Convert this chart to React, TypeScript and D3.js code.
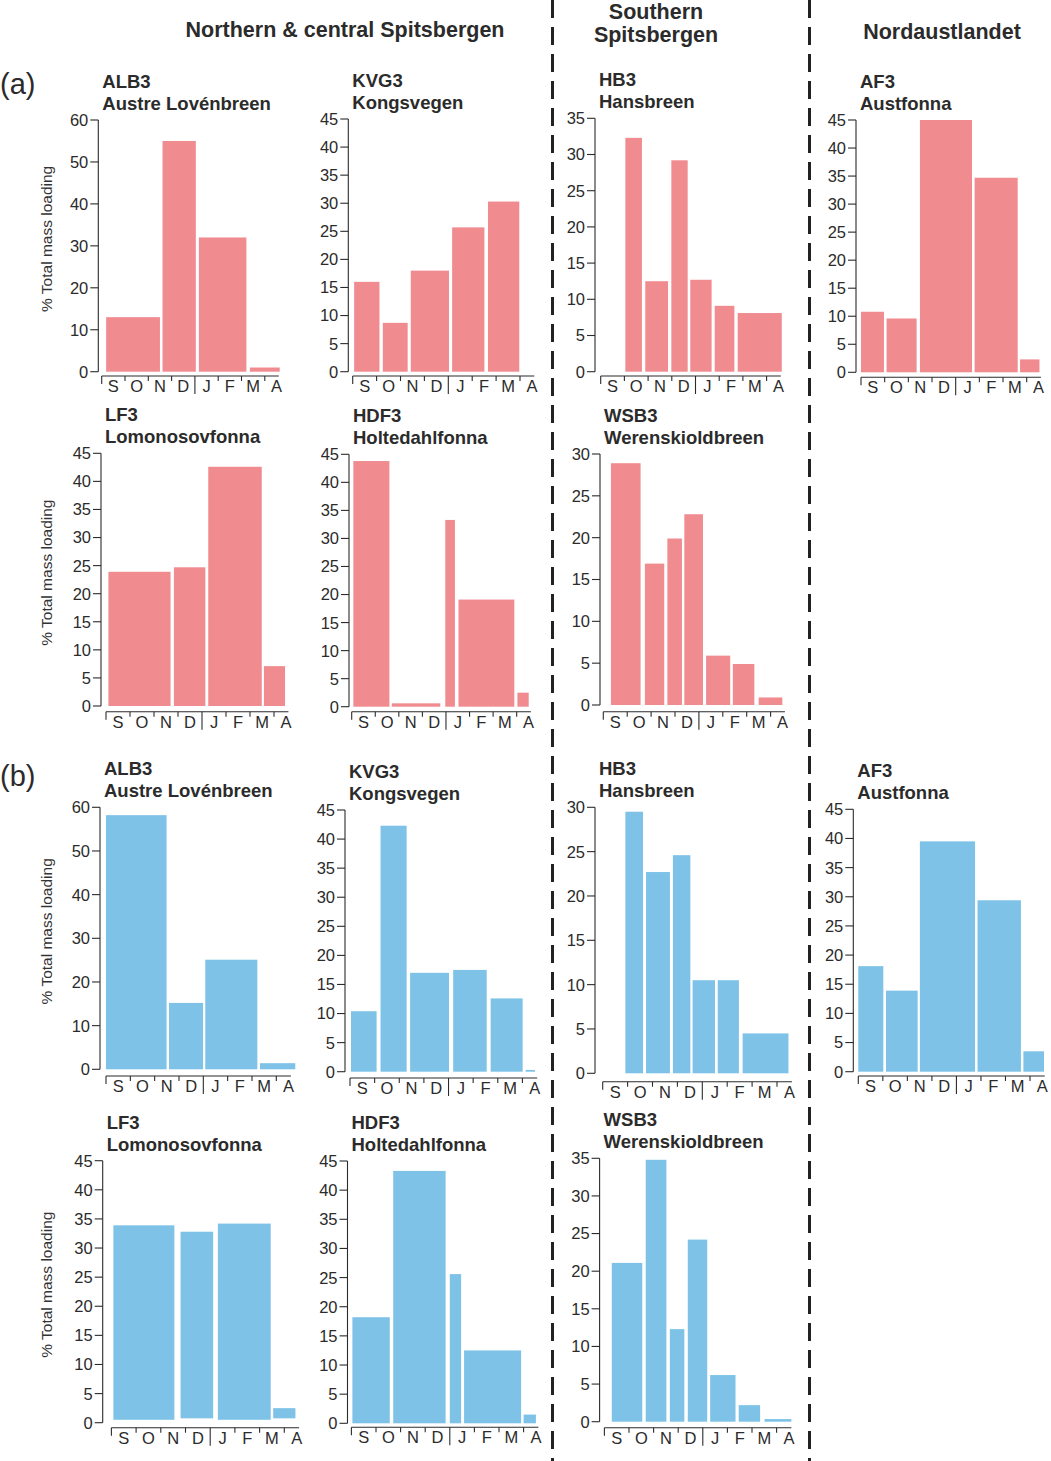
import * as d3 from 'd3'

// month labels along every x axis (sampling year Sep -> Apr)
const months = ['S', 'O', 'N', 'D', 'J', 'F', 'M', 'A']

const codes = ['ALB3', 'KVG3', 'HB3', 'AF3', 'LF3', 'HDF3', 'WSB3']
const names = [
  'Austre Lovénbreen',
  'Kongsvegen',
  'Hansbreen',
  'Austfonna',
  'Lomonosovfonna',
  'Holtedahlfonna',
  'Werenskioldbreen',
]

// y-axis maximum and tick step per panel
const yMaxA = [60, 45, 35, 45, 45, 45, 30]
const yMaxB = [60, 45, 30, 45, 45, 45, 35]
const stepA = [10, 5, 5, 5, 5, 5, 5]
const stepB = [10, 5, 5, 5, 5, 5, 5]

// sampling periods [start, end] in months since 1 Sep, and % of total mass loading
// (a) panels
const alb3aPeriods = [[0.19, 2.5], [2.61, 4.04], [4.17, 6.21], [6.36, 7.64]]
const alb3aValues = [13, 55, 32, 1]
const kvg3aPeriods = [[0.06, 1.12], [1.26, 2.3], [2.43, 4.03], [4.16, 5.51], [5.66, 6.97]]
const kvg3aValues = [16, 8.7, 18, 25.7, 30.3]
const hb3aPeriods = [[1.04, 1.74], [1.88, 2.84], [2.98, 3.67], [3.78, 4.68], [4.81, 5.64], [5.78, 7.64]]
const hb3aValues = [32.3, 12.5, 29.2, 12.7, 9.1, 8.1]
const af3aPeriods = [[0, 0.97], [1.08, 2.35], [2.49, 4.69], [4.8, 6.62], [6.72, 7.54]]
const af3aValues = [10.8, 9.6, 45, 34.7, 2.3]
const lf3aPeriods = [[0.1, 2.69], [2.83, 4.14], [4.26, 6.49], [6.58, 7.46]]
const lf3aValues = [23.9, 24.7, 42.6, 7.1]
const hdf3aPeriods = [[0.07, 1.6], [1.7, 3.76], [3.97, 4.38], [4.53, 6.9], [7.03, 7.51]]
const hdf3aValues = [43.8, 0.6, 33.3, 19.1, 2.5]
const wsb3aPeriods = [[0.32, 1.56], [1.74, 2.55], [2.68, 3.29], [3.39, 4.17], [4.3, 5.31], [5.42, 6.32], [6.5, 7.49]]
const wsb3aValues = [28.9, 16.9, 19.9, 22.8, 5.9, 4.9, 0.9]

// (b) panels
const alb3bPeriods = [[0, 2.49], [2.59, 3.99], [4.08, 6.22], [6.33, 7.78]]
const alb3bValues = [58.2, 15.2, 25.1, 1.4]
const kvg3bPeriods = [[0.04, 1.08], [1.24, 2.3], [2.44, 4.02], [4.19, 5.55], [5.71, 7.01], [7.13, 7.51]]
const kvg3bValues = [10.4, 42.3, 17, 17.5, 12.6, 0.3]
const hb3bPeriods = [[0.91, 1.62], [1.74, 2.7], [2.82, 3.52], [3.61, 4.51], [4.62, 5.47], [5.62, 7.46]]
const hb3bValues = [29.5, 22.7, 24.6, 10.5, 10.5, 4.5]
const af3bPeriods = [[0, 1.02], [1.13, 2.42], [2.51, 4.76], [4.86, 6.63], [6.73, 7.57]]
const af3bValues = [18.1, 13.9, 39.5, 29.4, 3.5]
const lf3bPeriods = [[0.08, 2.55], [2.8, 4.12], [4.31, 6.45], [6.55, 7.45]]
const lf3bValues = [33.9, 32.8, 34.2, 2.5]
const lf3bBase = [0.5, 0.75, 0.5, 0.75]
const hdf3bPeriods = [[0.04, 1.56], [1.7, 3.83], [4.0, 4.46], [4.58, 6.9], [7.0, 7.5]]
const hdf3bValues = [18.2, 43.3, 25.6, 12.5, 1.5]
const wsb3bPeriods = [[0.3, 1.54], [1.68, 2.52], [2.66, 3.25], [3.39, 4.18], [4.3, 5.33], [5.46, 6.33], [6.51, 7.6]]
const wsb3bValues = [21.1, 34.8, 12.3, 24.2, 6.2, 2.2, 0.35]

const RED = '#f08c90'
const BLUE = '#7ec3e7'
const INK = '#2b2b2b'
const FONT = "'Liberation Sans', Arial, Helvetica, sans-serif"

// panel frame geometry: y-axis x, month-0 x, px per month, top / zero y, x-axis y
type Frame = { ax: number; x0: number; mw: number; yTop: number; yBot: number; axY: number }

const framesA: Frame[] = [
  { ax: 98.3, x0: 101.7, mw: 23.3, yTop: 120, yBot: 371.7, axY: 376 },
  { ax: 348.3, x0: 352.7, mw: 23.9, yTop: 119, yBot: 371.7, axY: 376 },
  { ax: 595, x0: 600.7, mw: 23.7, yTop: 118.3, yBot: 371.7, axY: 376 },
  { ax: 856, x0: 861, mw: 23.67, yTop: 120, yBot: 372.3, axY: 377.3 },
  { ax: 101, x0: 106, mw: 24, yTop: 453.3, yBot: 706, axY: 711.7 },
  { ax: 349, x0: 351.7, mw: 23.57, yTop: 454.3, yBot: 706.7, axY: 711.7 },
  { ax: 600, x0: 603.3, mw: 23.9, yTop: 454, yBot: 705, axY: 711.7 },
]
const framesB: Frame[] = [
  { ax: 100, x0: 106, mw: 24.33, yTop: 807.3, yBot: 1069.3, axY: 1076 },
  { ax: 345, x0: 350, mw: 24.63, yTop: 810, yBot: 1071.7, axY: 1078 },
  { ax: 595, x0: 602.7, mw: 24.9, yTop: 807.3, yBot: 1073.3, axY: 1081.7 },
  { ax: 853.3, x0: 858.3, mw: 24.53, yTop: 809.3, yBot: 1071.7, axY: 1076 },
  { ax: 102.7, x0: 111.4, mw: 24.7, yTop: 1160.7, yBot: 1422.7, axY: 1427.7 },
  { ax: 347.5, x0: 351.4, mw: 24.6, yTop: 1161, yBot: 1423.3, axY: 1427.3 },
  { ax: 599.6, x0: 604.4, mw: 24.6, yTop: 1158.3, yBot: 1421.7, axY: 1427.7 },
]

const periodsA = [alb3aPeriods, kvg3aPeriods, hb3aPeriods, af3aPeriods, lf3aPeriods, hdf3aPeriods, wsb3aPeriods]
const valuesA = [alb3aValues, kvg3aValues, hb3aValues, af3aValues, lf3aValues, hdf3aValues, wsb3aValues]
const periodsB = [alb3bPeriods, kvg3bPeriods, hb3bPeriods, af3bPeriods, lf3bPeriods, hdf3bPeriods, wsb3bPeriods]
const valuesB = [alb3bValues, kvg3bValues, hb3bValues, af3bValues, lf3bValues, hdf3bValues, wsb3bValues]
const basesB: (number[] | null)[] = [null, null, null, null, lf3bBase, null, null]

type PanelProps = {
  f: Frame
  code: string
  name: string
  yMax: number
  step: number
  periods: number[][]
  values: number[]
  base: number[] | null
  color: string
  yLabel: boolean
}

const Panel = ({ f, code, name, yMax, step, periods, values, base, color, yLabel }: PanelProps) => {
  const x = d3.scaleLinear().domain([0, 8]).range([f.x0, f.x0 + 8 * f.mw])
  const y = d3.scaleLinear().domain([0, yMax]).range([f.yBot, f.yTop])
  const yTicks = d3.range(0, yMax + 0.001, step)
  const xTicks = d3.range(0, 8)

  return (
    <g>
      <text x={f.ax + 4} y={f.yTop - 32} fontSize={18.5} fontWeight="bold" fill={INK}>
        {code}
      </text>
      <text x={f.ax + 4} y={f.yTop - 10} fontSize={18.5} fontWeight="bold" fill={INK}>
        {name}
      </text>

      {periods.map((p, i) => {
        const b = base ? base[i] : 0
        return (
          <rect
            key={i}
            x={x(p[0])}
            width={x(p[1]) - x(p[0])}
            y={y(values[i])}
            height={y(b) - y(values[i])}
            fill={color}
          />
        )
      })}

      {/* y axis */}
      <line x1={f.ax} x2={f.ax} y1={y(yMax)} y2={y(0)} stroke={INK} strokeWidth={1.1} />
      {yTicks.map((t) => (
        <g key={t}>
          <line x1={f.ax - 8} x2={f.ax} y1={y(t)} y2={y(t)} stroke={INK} strokeWidth={1.1} />
          <text x={f.ax - 10} y={y(t)} dy="0.36em" textAnchor="end" fontSize={16.5} fill={INK}>
            {t}
          </text>
        </g>
      ))}

      {/* x axis */}
      <line x1={x(0)} x2={x(7.6)} y1={f.axY} y2={f.axY} stroke={INK} strokeWidth={1.1} />
      {xTicks.map((t) => (
        <line
          key={t}
          x1={x(t)}
          x2={x(t)}
          y1={f.axY}
          y2={f.axY + (t === 4 ? 18 : t === 0 ? 8 : 5)}
          stroke={INK}
          strokeWidth={1.1}
        />
      ))}
      {months.map((m, i) => (
        <text key={m} x={x(i + 0.5)} y={f.axY + 16} textAnchor="middle" fontSize={16.5} fill={INK}>
          {m}
        </text>
      ))}

      {yLabel && (
        <text
          transform={`translate(52,${(f.yTop + f.yBot) / 2 - 7}) rotate(-90)`}
          textAnchor="middle"
          fontSize={15.5}
          fill="#333"
        >
          % Total mass loading
        </text>
      )}
    </g>
  )
}

export default function App() {
  return (
    <svg
      width={1051}
      height={1461}
      style={{ position: 'absolute', left: 0, top: 0, background: '#fff' }}
      fontFamily={FONT}
    >
      <rect width={1051} height={1461} fill="#fff" />

      {/* region headers */}
      <text x={345} y={37} textAnchor="middle" fontSize={21.5} fontWeight="bold" fill={INK}>
        Northern &amp; central Spitsbergen
      </text>
      <text x={656} y={19} textAnchor="middle" fontSize={21.5} fontWeight="bold" fill={INK}>
        Southern
      </text>
      <text x={656} y={42} textAnchor="middle" fontSize={21.5} fontWeight="bold" fill={INK}>
        Spitsbergen
      </text>
      <text x={942} y={39} textAnchor="middle" fontSize={21.5} fontWeight="bold" fill={INK}>
        Nordaustlandet
      </text>

      <text x={0} y={94} fontSize={29} fill={INK}>
        (a)
      </text>
      <text x={0} y={786} fontSize={29} fill={INK}>
        (b)
      </text>

      {/* region separators */}
      <line x1={552.5} x2={552.5} y1={0} y2={1461} stroke="#222" strokeWidth={3} strokeDasharray="18 9" />
      <line x1={809.5} x2={809.5} y1={0} y2={1461} stroke="#222" strokeWidth={3} strokeDasharray="18 9" />

      {framesA.map((f, i) => (
        <Panel
          key={'a' + i}
          f={f}
          code={codes[i]}
          name={names[i]}
          yMax={yMaxA[i]}
          step={stepA[i]}
          periods={periodsA[i]}
          values={valuesA[i]}
          base={null}
          color={RED}
          yLabel={i === 0 || i === 4}
        />
      ))}
      {framesB.map((f, i) => (
        <Panel
          key={'b' + i}
          f={f}
          code={codes[i]}
          name={names[i]}
          yMax={yMaxB[i]}
          step={stepB[i]}
          periods={periodsB[i]}
          values={valuesB[i]}
          base={basesB[i]}
          color={BLUE}
          yLabel={i === 0 || i === 4}
        />
      ))}
    </svg>
  )
}
